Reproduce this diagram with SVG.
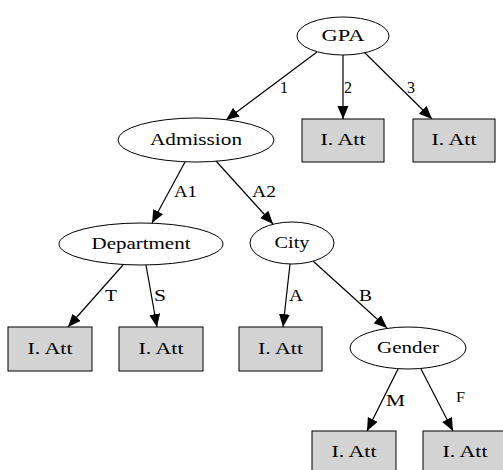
<svg xmlns="http://www.w3.org/2000/svg" width="503" height="470" viewBox="0 0 503 470">
<style>
.n{fill:#fff;stroke:#000;stroke-width:1}
.b{fill:#d3d3d3;stroke:#000;stroke-width:1}
text{font-family:'Liberation Serif','DejaVu Serif','Times New Roman',serif;font-size:16.5px;fill:#000}
.c{text-anchor:middle}
.e{stroke:#000;stroke-width:1.2;fill:none;marker-end:url(#ah)}
</style>
<defs>
<marker id="ah" markerUnits="userSpaceOnUse" markerWidth="14" markerHeight="12" refX="13" refY="5.500" orient="auto">
<path d="M0,0 L13,5.500 L0,11 z" fill="#000"/>
</marker>
</defs>
<rect width="503" height="470" fill="#fff"/>
<g id="edges">
<line class="e" x1="317" y1="52" x2="226" y2="120"/>
<line class="e" x1="343" y1="55" x2="343" y2="119"/>
<line class="e" x1="364" y1="52" x2="432" y2="119"/>
<line class="e" x1="185" y1="162" x2="152" y2="223"/>
<line class="e" x1="216" y1="161" x2="273" y2="224"/>
<line class="e" x1="123" y1="265" x2="68" y2="327"/>
<line class="e" x1="146" y1="265" x2="157" y2="327"/>
<line class="e" x1="290" y1="264" x2="283" y2="327"/>
<line class="e" x1="313" y1="261" x2="387" y2="328"/>
<line class="e" x1="398" y1="369" x2="367" y2="431"/>
<line class="e" x1="421" y1="369" x2="453" y2="431"/>
<text x="280" y="93" textLength="8" lengthAdjust="spacingAndGlyphs">1</text>
<text x="344" y="93" textLength="8" lengthAdjust="spacingAndGlyphs">2</text>
<text x="407" y="93" textLength="8" lengthAdjust="spacingAndGlyphs">3</text>
<text x="174" y="197" textLength="23" lengthAdjust="spacingAndGlyphs">A1</text>
<text x="252" y="197" textLength="24" lengthAdjust="spacingAndGlyphs">A2</text>
<text x="105" y="301" textLength="12" lengthAdjust="spacingAndGlyphs">T</text>
<text x="154" y="301" textLength="12" lengthAdjust="spacingAndGlyphs">S</text>
<text x="289" y="301" textLength="14" lengthAdjust="spacingAndGlyphs">A</text>
<text x="359" y="301" textLength="13" lengthAdjust="spacingAndGlyphs">B</text>
<text x="386" y="406" textLength="19" lengthAdjust="spacingAndGlyphs">M</text>
<text x="456" y="402" style="font-size:14px" textLength="9" lengthAdjust="spacingAndGlyphs">F</text>
</g>
<g id="gpa"><ellipse class="n" cx="343" cy="36" rx="46" ry="19"/><text class="c" x="343" y="41" textLength="43" lengthAdjust="spacingAndGlyphs">GPA</text></g>
<g id="leaf2"><rect class="b" x="302" y="119" width="82" height="43"/><text class="c" x="343" y="145" textLength="45" lengthAdjust="spacingAndGlyphs">I. Att</text></g>
<g id="leaf3"><rect class="b" x="413" y="119" width="82" height="43"/><text class="c" x="454" y="145" textLength="45" lengthAdjust="spacingAndGlyphs">I. Att</text></g>
<g id="admission"><ellipse class="n" cx="196" cy="140" rx="78" ry="22"/><text class="c" x="196" y="145" textLength="92" lengthAdjust="spacingAndGlyphs">Admission</text></g>
<g id="department"><ellipse class="n" cx="141" cy="244" rx="82" ry="21"/><text class="c" x="141" y="249" textLength="99" lengthAdjust="spacingAndGlyphs">Department</text></g>
<g id="city"><ellipse class="n" cx="292" cy="243" rx="42" ry="21"/><text class="c" x="292" y="248" textLength="35" lengthAdjust="spacingAndGlyphs">City</text></g>
<g id="leafT"><rect class="b" x="8" y="327" width="84" height="44"/><text class="c" x="50" y="354" textLength="45" lengthAdjust="spacingAndGlyphs">I. Att</text></g>
<g id="leafS"><rect class="b" x="119" y="327" width="84" height="44"/><text class="c" x="161" y="354" textLength="45" lengthAdjust="spacingAndGlyphs">I. Att</text></g>
<g id="leafA"><rect class="b" x="239" y="327" width="83" height="44"/><text class="c" x="280.500" y="354" textLength="45" lengthAdjust="spacingAndGlyphs">I. Att</text></g>
<g id="gender"><ellipse class="n" cx="408" cy="348" rx="58" ry="21"/><text class="c" x="408" y="353" textLength="62" lengthAdjust="spacingAndGlyphs">Gender</text></g>
<g id="leafM"><rect class="b" x="312" y="431" width="84" height="44"/><text class="c" x="354" y="457" textLength="45" lengthAdjust="spacingAndGlyphs">I. Att</text></g>
<g id="leafF"><rect class="b" x="423" y="431" width="84" height="44"/><text class="c" x="465" y="457" textLength="45" lengthAdjust="spacingAndGlyphs">I. Att</text></g>
</svg>
